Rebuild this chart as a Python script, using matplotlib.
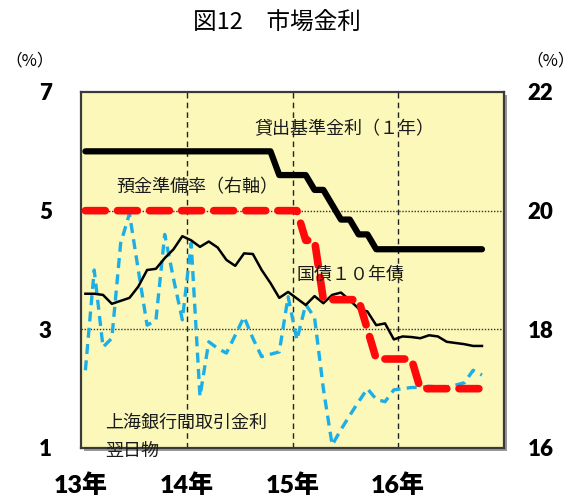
import matplotlib
matplotlib.use("Agg")
import matplotlib.pyplot as plt
from matplotlib.patches import Rectangle

plt.rcParams['font.family'] = ['Noto Sans CJK JP', 'DejaVu Sans']

# Monthly observations, Jan 2013 (index 0) through Oct 2016 (index 45)
months = list(range(46))

# 1-year benchmark lending rate (%)
lending_rate = [6.00] * 22 + [5.60, 5.60, 5.60, 5.60, 5.35, 5.35, 5.10, 4.85,
                              4.85, 4.60, 4.60] + [4.35] * 13

# Reserve requirement ratio (%, right axis)
reserve_ratio = [20.0] * 25 + [19.5, 19.5, 18.5, 18.5, 18.5, 18.5, 18.5, 18.0,
                               17.5, 17.5, 17.5, 17.5, 17.5] + [17.0] * 8

# 10-year government bond yield (%)
bond_10y = [3.60, 3.60, 3.58, 3.43, 3.48, 3.53, 3.72, 4.00, 4.02, 4.20,
            4.35, 4.57, 4.50, 4.39, 4.48, 4.38, 4.17, 4.07, 4.28, 4.27,
            4.00, 3.78, 3.53, 3.63, 3.52, 3.41, 3.56, 3.44, 3.58, 3.62,
            3.49, 3.35, 3.30, 3.07, 3.10, 2.83, 2.88, 2.87, 2.85, 2.90,
            2.88, 2.79, 2.77, 2.75, 2.72, 2.72]

# Shanghai interbank offered rate, overnight (%)
shibor_on = [2.31, 4.00, 2.70, 2.85, 4.45, 4.95, 4.00, 3.07, 3.15, 4.60,
             3.85, 3.16, 4.45, 1.87, 2.79, 2.68, 2.60, 2.90, 3.21, 2.85,
             2.54, 2.58, 2.62, 3.55, 2.82, 3.42, 3.20, 2.00, 1.05, 1.31,
             1.55, 1.78, 2.00, 1.82, 1.78, 1.98, 2.00, 2.02, 2.02, 2.04,
             2.03, 2.03, 2.06, 2.10, 2.31, 2.23]

year_labels = ['13年', '14年', '15年', '16年']
year_starts = [-0.5, 11.5, 23.5, 35.5]
left_ticks = [1, 3, 5, 7]
right_ticks = [16, 18, 20, 22]

W, H = 579, 497
fig = plt.figure(figsize=(W / 100, H / 100), dpi=100)
fig.patch.set_facecolor('white')

L, R, T, B = 81, 504, 92, 448
ax = fig.add_axes([L / W, 1 - B / H, (R - L) / W, (B - T) / H])
ax.set_zorder(2)

# drop shadow behind the plot frame
fig.patches.append(Rectangle(((L + 2.5) / W, 1 - (B + 2.5) / H),
                             (R - L) / W, (B - T) / H,
                             transform=fig.transFigure, facecolor='#9a9a9a',
                             edgecolor='none', zorder=0.5))

ax.set_facecolor('#FBF8BA')
ax.set_xlim(-0.5, 47.5)
ax.set_ylim(1, 7)

for s in ax.spines.values():
    s.set_color('#3a3a3a')
    s.set_linewidth(1.6)

for x in year_starts[1:]:
    ax.axvline(x, color='#222222', lw=1.0, ls=(0, (4, 3)), zorder=1)
for y in [3, 5]:
    ax.axhline(y, color='#333333', lw=1.0, ls=(0, (1, 1.2)), zorder=1)

ax.plot(months, shibor_on, color='#1EAEE6', lw=2.4, ls=(0, (3.0, 1.9)),
        zorder=2)
ax.plot(months, bond_10y, color='black', lw=1.8, zorder=3,
        solid_joinstyle='round')
ax.plot(months, lending_rate, color='black', lw=4.5, zorder=4,
        solid_joinstyle='round', solid_capstyle='round')

tick_font = dict(family=['Lato', 'Noto Sans CJK JP'], weight='heavy')

ax.set_yticks(left_ticks)
ax.set_yticklabels([str(v) for v in left_ticks], fontsize=16, **tick_font)
ax.tick_params(axis='y', length=0, pad=21)

ax.set_xticks(year_starts)
ax.set_xticklabels(year_labels, fontsize=18, **tick_font)
ax.tick_params(axis='x', length=0, pad=18)

ax2 = ax.twinx()
ax2.set_zorder(3)
ax2.patch.set_visible(False)
ax2.set_ylim(16, 22)
ax2.set_xlim(-0.5, 47.5)
for s in ax2.spines.values():
    s.set_visible(False)
ax2.plot(months, reserve_ratio, color='#FF0A0A', lw=5.5, ls=(0, (2.6, 1.6)),
         dash_capstyle='round', zorder=5)
ax2.set_yticks(right_ticks)
ax2.set_yticklabels([str(v) for v in right_ticks], fontsize=16, **tick_font)
ax2.tick_params(axis='y', length=0, pad=17)

# series labels, placed in left-axis data coordinates
label_style = dict(fontsize=13, color='#1a1a1a', ha='left', va='center',
                   transform=ax.transData, zorder=10)
ax2.text(19.2, 6.38, '貸出基準金利（１年）', **label_style)
ax2.text(3.45, 5.40, '預金準備率（右軸）', **label_style)
ax2.text(23.9, 3.92, '国債１０年債', **label_style)
ax2.text(2.2, 1.42, '上海銀行間取引金利', **label_style)
ax2.text(2.2, 0.955, '翌日物', clip_on=False, **label_style)

fig.text(277 / W, 1 - 22 / H, '図12　市場金利', fontsize=17, ha='center',
         va='center', color='black')
fig.text(30 / W, 1 - 61 / H, '（%）', fontsize=12, ha='center', va='center')
fig.text(551 / W, 1 - 61 / H, '（%）', fontsize=12, ha='center', va='center')

fig.savefig('out.png', dpi=100)
